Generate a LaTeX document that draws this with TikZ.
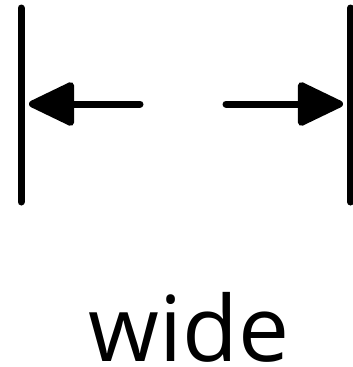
\documentclass[tikz,border=0pt]{standalone}
\usepackage{fontspec}
\setmainfont{Open Sans}
\usetikzlibrary{arrows.meta}
\begin{document}
\begin{tikzpicture}[
  x=1pt,y=-1pt,
  bar/.style={line width=7pt,line cap=round},
  arrow/.style={-{Triangle[length=50pt,width=46pt,round]},line width=7pt,line cap=round},
  label/.style={font=\fontsize{91}{100}\selectfont,inner sep=0pt,anchor=base}
]
\useasboundingbox (0,0) rectangle (353,367);
\coordinate (lefttop) at (21,8);
\coordinate (leftbot) at (21,202);
\coordinate (righttop) at (350.5,8);
\coordinate (rightbot) at (350.5,202);
\coordinate (lstart) at (140,104);
\coordinate (ltip) at (29,104);
\coordinate (rstart) at (226,104);
\coordinate (rtip) at (343,104);
\node[label] (wide) at (189,361) {wide};
\draw[bar] (lefttop) -- (leftbot);
\draw[bar] (righttop) -- (rightbot);
\draw[arrow] (lstart) -- (ltip);
\draw[arrow] (rstart) -- (rtip);
\end{tikzpicture}
\end{document}
